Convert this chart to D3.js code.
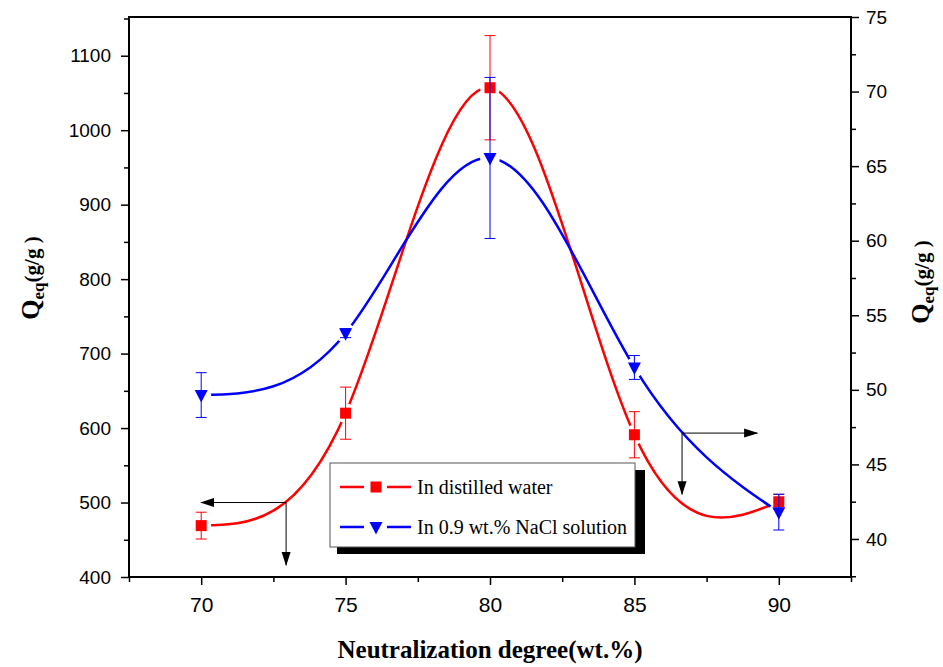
<!DOCTYPE html>
<html>
<head>
<meta charset="utf-8">
<script src="https://cdn.jsdelivr.net/npm/d3@7"></script>
<style>
  body { margin: 0; background: #fff; }
  svg { display: block; }
</style>
</head>
<body>
<div id="chart"></div>
<script>
//data
const degrees = [70, 75, 80, 85, 90];
const waterQ = [469, 620, 1057, 591, 501];
const waterErr = [18, 35, 70, 31, 10];
const salineQ = [49.65, 53.8, 65.55, 51.5, 41.8];
const salineErr = [1.5, 0.3, 5.4, 0.8, 1.2];

const xTicks = [70, 75, 80, 85, 90];
const xMinor = [67.5, 72.5, 77.5, 82.5, 87.5, 92.5];
const leftTicks = [400, 500, 600, 700, 800, 900, 1000, 1100];
const leftMinor = [450, 550, 650, 750, 850, 950, 1050, 1150];
const rightTicks = [40, 45, 50, 55, 60, 65, 70, 75];
const rightMinor = [37.5, 42.5, 47.5, 52.5, 57.5, 62.5, 67.5, 72.5];

const seriesNames = ["In distilled water", "In 0.9 wt.% NaCl solution"];

// arrows pointing each curve to its axis: corner point and tips (data units)
const arrowWater = { x: 72.94, y: 500, tipX: 70, tipY: 416 };
const arrowSaline = { x: 86.65, y: 47.1, tipX: 89.25, tipY: 43.0 };

//size
const width = 943, height = 667;
const margin = { top: 17, right: 92, bottom: 90, left: 129 };
const innerWidth = width - margin.left - margin.right;
const innerHeight = height - margin.top - margin.bottom;

const RED = "#ff0000", BLUE = "#0000ff";

//create element
const svg = d3.select("#chart").append("svg")
  .attr("width", width)
  .attr("height", height)
  .attr("font-family", "'Liberation Sans', Arial, sans-serif");

const defs = svg.append("defs");
defs.append("marker")
  .attr("id", "arrowhead")
  .attr("markerUnits", "userSpaceOnUse")
  .attr("viewBox", "0 -5 14 10")
  .attr("refX", 13)
  .attr("refY", 0)
  .attr("markerWidth", 14)
  .attr("markerHeight", 10)
  .attr("orient", "auto")
  .append("path")
  .attr("d", "M0,-4.5L14,0L0,4.5Z")
  .attr("fill", "#000");

const g = svg.append("g").attr("transform", `translate(${margin.left},${margin.top})`);

//scales
const x = d3.scaleLinear().domain([67.5, 92.5]).range([0, innerWidth]);
const yLeft = d3.scaleLinear().domain([400, 1152]).range([innerHeight, 0]);
const yRight = d3.scaleLinear().domain([37.45, 75]).range([innerHeight, 0]);

const water = degrees.map((d, i) => ({ x: d, y: waterQ[i], e: waterErr[i] }));
const saline = degrees.map((d, i) => ({ x: d, y: salineQ[i], e: salineErr[i] }));

//axes
function styleAxis(sel, size) {
  sel.select(".domain").remove();
  sel.attr("font-family", null);
  sel.selectAll(".tick line").attr("stroke", "#000").attr("stroke-width", 1.5);
  if (size) sel.selectAll(".tick text").attr("fill", "#000").attr("font-size", size);
  else sel.selectAll(".tick text").remove();
}

g.append("g")
  .attr("transform", `translate(0,${innerHeight})`)
  .call(d3.axisBottom(x).tickValues(xTicks).tickFormat(d3.format("d"))
    .tickSize(8).tickSizeOuter(0).tickPadding(12))
  .call(styleAxis, 21);
g.append("g")
  .attr("transform", `translate(0,${innerHeight})`)
  .call(d3.axisBottom(x).tickValues(xMinor).tickSize(5).tickSizeOuter(0))
  .call(styleAxis, 0);

g.append("g")
  .call(d3.axisLeft(yLeft).tickValues(leftTicks).tickFormat(d3.format("d"))
    .tickSize(8).tickSizeOuter(0).tickPadding(10))
  .call(styleAxis, 19);
g.append("g")
  .call(d3.axisLeft(yLeft).tickValues(leftMinor).tickSize(5).tickSizeOuter(0))
  .call(styleAxis, 0);

g.append("g")
  .attr("transform", `translate(${innerWidth},0)`)
  .call(d3.axisRight(yRight).tickValues(rightTicks).tickFormat(d3.format("d"))
    .tickSize(8).tickSizeOuter(0).tickPadding(7))
  .call(styleAxis, 19);
g.append("g")
  .attr("transform", `translate(${innerWidth},0)`)
  .call(d3.axisRight(yRight).tickValues(rightMinor).tickSize(5).tickSizeOuter(0))
  .call(styleAxis, 0);

// frame
g.append("rect")
  .attr("width", innerWidth)
  .attr("height", innerHeight)
  .attr("fill", "none")
  .attr("stroke", "#000")
  .attr("stroke-width", 2);

//axis titles
svg.append("text")
  .attr("x", margin.left + x(80))
  .attr("y", 658)
  .attr("text-anchor", "middle")
  .attr("font-family", "'Liberation Serif', 'Times New Roman', serif")
  .attr("font-weight", "bold")
  .attr("font-size", 25)
  .text("Neutralization degree(wt.%)");

function qTitle(cx, cy) {
  const t = svg.append("text")
    .attr("transform", `translate(${cx},${cy}) rotate(-90)`)
    .attr("text-anchor", "middle")
    .attr("font-family", "'Liberation Serif', 'Times New Roman', serif")
    .attr("font-weight", "bold");
  t.append("tspan").attr("font-size", 26).text("Q");
  t.append("tspan").attr("font-size", 17).attr("dy", 5).text("eq");
  t.append("tspan").attr("font-size", 21).attr("dy", -5).text("(g/g )");
}
qTitle(39, 278);
qTitle(929, 282);

//curves with gaps around the symbols
const line = (ys) => d3.line().x((d) => x(d.x)).y((d) => ys(d.y)).curve(d3.curveNatural);

function gapMask(id, data, ys) {
  const m = defs.append("mask").attr("id", id).attr("maskUnits", "userSpaceOnUse")
    .attr("x", -margin.left).attr("y", -margin.top).attr("width", width).attr("height", height);
  m.append("rect").attr("x", -margin.left).attr("y", -margin.top)
    .attr("width", width).attr("height", height).attr("fill", "#fff");
  m.selectAll("circle").data(data).join("circle")
    .attr("cx", (d) => x(d.x)).attr("cy", (d) => ys(d.y)).attr("r", 10).attr("fill", "#000");
}
gapMask("gap-water", water, yLeft);
gapMask("gap-saline", saline, yRight);

g.append("path")
  .datum(water)
  .attr("d", line(yLeft))
  .attr("fill", "none")
  .attr("stroke", RED)
  .attr("stroke-width", 2.5)
  .attr("mask", "url(#gap-water)");

g.append("path")
  .datum(saline)
  .attr("d", line(yRight))
  .attr("fill", "none")
  .attr("stroke", BLUE)
  .attr("stroke-width", 2.5)
  .attr("mask", "url(#gap-saline)");

//arrows
function arrow(a, ys) {
  const cx = x(a.x), cy = ys(a.y);
  g.append("line")
    .attr("x1", cx).attr("y1", cy).attr("x2", x(a.tipX)).attr("y2", cy)
    .attr("stroke", "#000").attr("stroke-width", 1)
    .attr("marker-end", "url(#arrowhead)");
  g.append("line")
    .attr("x1", cx).attr("y1", cy).attr("x2", cx).attr("y2", ys(a.tipY))
    .attr("stroke", "#000").attr("stroke-width", 1)
    .attr("marker-end", "url(#arrowhead)");
}
arrow(arrowWater, yLeft);
arrow(arrowSaline, yRight);

//error bars and symbols
const trianglePath = "M-6.5,-5L6.5,-5L0,7.5Z";

function errorBars(data, ys, color) {
  const eb = g.append("g").attr("stroke", color).attr("stroke-width", 1);
  data.forEach((d) => {
    const px = x(d.x), top = ys(d.y + d.e), bot = ys(d.y - d.e);
    eb.append("line").attr("x1", px).attr("x2", px).attr("y1", top).attr("y2", bot);
    eb.append("line").attr("x1", px - 5.5).attr("x2", px + 5.5).attr("y1", top).attr("y2", top);
    eb.append("line").attr("x1", px - 5.5).attr("x2", px + 5.5).attr("y1", bot).attr("y2", bot);
  });
}

errorBars(water, yLeft, RED);
g.append("g").selectAll("rect").data(water).join("rect")
  .attr("x", (d) => x(d.x) - 5.5)
  .attr("y", (d) => yLeft(d.y) - 5.5)
  .attr("width", 11).attr("height", 11)
  .attr("fill", RED);

errorBars(saline, yRight, BLUE);
g.append("g").selectAll("path").data(saline).join("path")
  .attr("transform", (d) => `translate(${x(d.x)},${yRight(d.y)})`)
  .attr("d", trianglePath)
  .attr("fill", BLUE);

//legend
const legend = svg.append("g").attr("transform", "translate(330,463)");
legend.append("rect").attr("x", 7).attr("y", 7).attr("width", 308).attr("height", 84).attr("fill", "#000");
legend.append("rect").attr("width", 305).attr("height", 84)
  .attr("fill", "#fff").attr("stroke", "#555").attr("stroke-width", 1);

const rows = legend.selectAll("g.row").data(seriesNames).join("g")
  .attr("class", "row")
  .attr("transform", (d, i) => `translate(0,${24 + i * 40})`);
rows.append("line").attr("x1", 10).attr("x2", 34).attr("stroke", (d, i) => (i ? BLUE : RED)).attr("stroke-width", 2.5);
rows.append("line").attr("x1", 57).attr("x2", 81).attr("stroke", (d, i) => (i ? BLUE : RED)).attr("stroke-width", 2.5);
rows.filter((d, i) => i === 0).append("rect")
  .attr("x", 40.5).attr("y", -5.5).attr("width", 11).attr("height", 11).attr("fill", RED);
rows.filter((d, i) => i === 1).append("path")
  .attr("transform", "translate(46,0)").attr("d", trianglePath).attr("fill", BLUE);
rows.append("text")
  .attr("x", 87)
  .attr("dy", "0.33em")
  .attr("font-family", "'Liberation Serif', 'Times New Roman', serif")
  .attr("font-size", 20)
  .text((d) => d);
</script>
</body>
</html>
